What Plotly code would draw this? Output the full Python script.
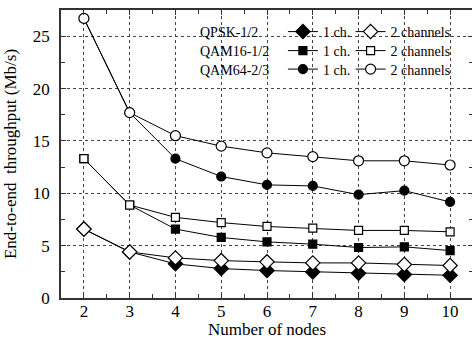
import plotly.graph_objects as go

nodes = [2, 3, 4, 5, 6, 7, 8, 9, 10]

qpsk_1ch = [6.58, 4.40, 3.26, 2.81, 2.62, 2.49, 2.36, 2.24, 2.17]
qpsk_2ch = [6.58, 4.40, 3.83, 3.57, 3.45, 3.35, 3.35, 3.19, 3.10]
qam16_1ch = [13.3, 8.88, 6.58, 5.78, 5.36, 5.14, 4.82, 4.88, 4.53]
qam16_2ch = [13.3, 8.88, 7.70, 7.20, 6.83, 6.67, 6.45, 6.45, 6.32]
qam64_1ch = [26.7, 17.7, 13.3, 11.6, 10.8, 10.7, 9.87, 10.25, 9.17]
qam64_2ch = [26.7, 17.7, 15.5, 14.5, 13.86, 13.5, 13.1, 13.1, 12.7]

group_labels = ["QPSK-1/2", "QAM16-1/2", "QAM64-2/3"]
x_ticks = [2, 3, 4, 5, 6, 7, 8, 9, 10]
y_ticks = [0, 5, 10, 15, 20, 25]

FONT = "Liberation Serif, Times New Roman, serif"

W, H = 475, 339
ml, mr, mt, mb = 61, 0, 10, 41
pw = W - ml - mr
ph = H - mt - mb


def px_x(p):
    return (p - ml) / pw


def px_y(p):
    return (H - mb - p) / ph


series = [
    (qpsk_1ch, "diamond", "black", 11, 0, 0, "1 ch."),
    (qam16_1ch, "square", "black", 8, 1, 0, "1 ch."),
    (qam64_1ch, "circle", "black", 9, 2, 0, "1 ch."),
    (qpsk_2ch, "diamond", "white", 11, 0, 1, "2 channels"),
    (qam16_2ch, "square", "white", 8, 1, 1, "2 channels"),
    (qam64_2ch, "circle", "white", 10, 2, 1, "2 channels"),
]

row_centers = [32, 51, 69.5]
col_x = [284, 352]

fig = go.Figure()
legend_layout = {}
for k, (vals, sym, fill, size, row, col, name) in enumerate(series):
    leg_name = "legend" if k == 0 else f"legend{k + 1}"
    fig.add_trace(go.Scatter(
        x=nodes, y=vals, mode="lines+markers", name=name, legend=leg_name,
        line=dict(color="black", width=1),
        marker=dict(symbol=sym, size=size, color=fill,
                    line=dict(color="black", width=1.2)),
    ))
    legend_layout[leg_name] = dict(
        x=px_x(col_x[col]), y=px_y(row_centers[row] - 16),
        xanchor="left", yanchor="top",
        bgcolor="rgba(0,0,0,0)", borderwidth=0,
        font=dict(family=FONT, size=14, color="black"),
        itemwidth=30,
    )
fig.update_layout(**legend_layout)

for i, lab in enumerate(group_labels):
    fig.add_annotation(
        x=px_x(199), y=px_y(row_centers[i] + 0.5), xref="paper", yref="paper",
        xanchor="left", yanchor="middle", text=lab, showarrow=False,
        font=dict(family=FONT, size=14, color="black"),
    )

fig.add_annotation(
    x=0.5, y=px_y(329), xref="paper", yref="paper",
    xanchor="center", yanchor="middle", text="Number of nodes",
    showarrow=False, font=dict(family=FONT, size=17, color="black"),
)

axis_common = dict(
    showline=True, linecolor="#333", linewidth=1.5, mirror="ticks",
    ticks="inside", ticklen=5, tickcolor="#333", tickwidth=1,
    showgrid=True, gridcolor="#444", griddash="dot", gridwidth=1,
    zeroline=False,
    tickfont=dict(family=FONT, size=17, color="black"),
    title_font=dict(family=FONT, size=17, color="black"),
    minor=dict(ticks="inside", ticklen=4, tickcolor="#333", showgrid=False),
)

fig.update_xaxes(
    range=[1.5, 10.5], tickvals=x_ticks, ticklabelstandoff=-3,
    minor_dtick=0.5, minor_tick0=1.5, **axis_common,
)
fig.update_yaxes(
    range=[0, 27.5], tickvals=y_ticks,
    title_text="End-to-end  throughput (Mb/s)", title_standoff=12,
    ticklabelstandoff=6,
    minor_dtick=2.5, minor_tick0=0, **axis_common,
)

fig.update_layout(
    width=W, height=H, margin=dict(l=ml, r=mr, t=mt, b=mb),
    paper_bgcolor="white", plot_bgcolor="white", showlegend=True,
)

fig.write_html(
    "out.html",
    config={"displayModeBar": False},
    post_script="document.body.style.margin='0px';document.body.style.overflow='hidden';",
)
